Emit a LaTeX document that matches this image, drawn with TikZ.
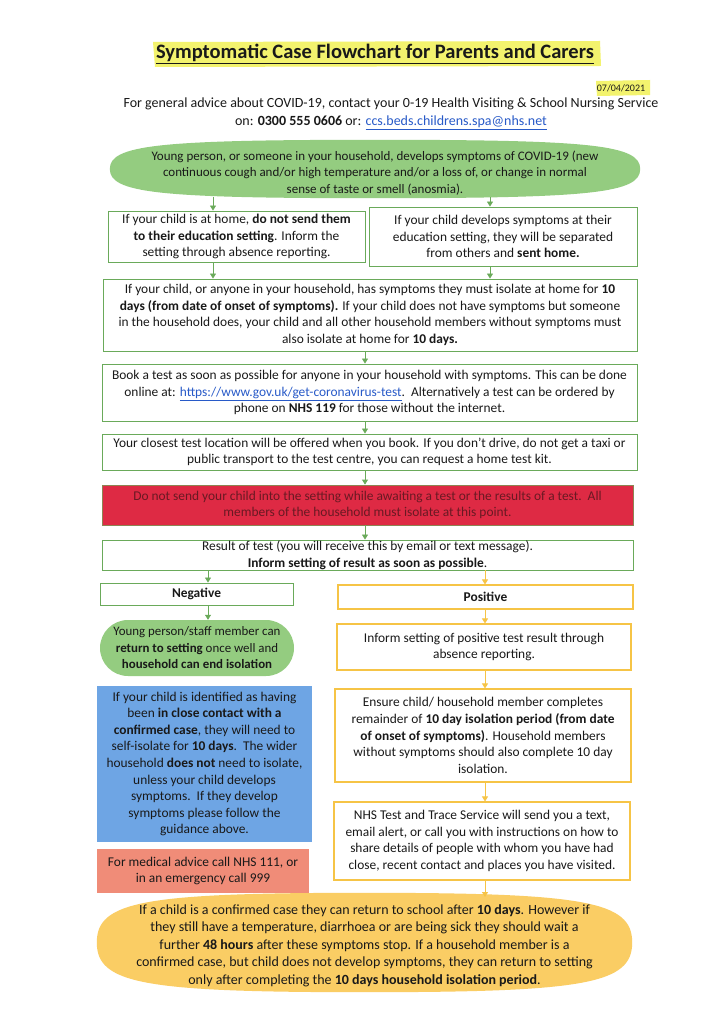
\documentclass[tikz,border=0pt]{standalone}
\usepackage{fontspec}
\setmainfont{Carlito}
\usetikzlibrary{arrows.meta,backgrounds}
\definecolor{gfill}{RGB}{148,204,128}
\definecolor{gline}{RGB}{106,170,90}
\definecolor{oline}{RGB}{246,196,70}
\definecolor{ofill}{RGB}{250,205,100}
\definecolor{rfill}{RGB}{222,42,68}
\definecolor{rtext}{RGB}{105,25,35}
\definecolor{bfill}{RGB}{110,165,228}
\definecolor{sfill}{RGB}{240,140,120}
\definecolor{hly}{RGB}{243,243,110}
\definecolor{linkblue}{RGB}{40,90,200}
\definecolor{txt}{RGB}{25,25,25}
\newcommand{\lnk}[1]{\textcolor{linkblue}{\underline{#1}}}
% squircle fill around a node: #1 node, #2 kx, #3 ky, #4 colour
\newcommand{\sqfill}[4]{\fill[#4] (#1.west) .. controls +(0,-#3) and +(-#2,0) .. (#1.north) .. controls +(#2,0) and +(0,-#3) .. (#1.east) .. controls +(0,#3) and +(#2,0) .. (#1.south) .. controls +(-#2,0) and +(0,#3) .. (#1.west) -- cycle;}
\tikzset{
  body/.style={font=\fontsize{13.4}{16.6}\selectfont, text=txt, align=center, inner sep=0pt},
  gbox/.style={body, draw=gline, line width=0.9pt},
  obox/.style={body, draw=oline, line width=1.1pt},
  garrow/.style={draw=gline, line width=0.8pt, -{Triangle[width=6pt,length=5pt]}},
  oarrow/.style={draw=oline, line width=0.9pt, -{Triangle[width=6pt,length=5pt]}},
}
\begin{document}
\begin{tikzpicture}[x=1pt,y=-1pt]
\useasboundingbox (0,0) rectangle (724,1024);
% title
\node[font=\fontsize{20.5}{24}\selectfont\bfseries, text=txt] (title) at (375,54) {\underline{Symptomatic Case Flowchart for Parents and Carers}};
\node[font=\fontsize{10}{12}\selectfont, text=txt] (date) at (621,88) {07/04/2021};
\node[body, font=\fontsize{14}{18}\selectfont] (advice) at (391,114) {For general advice about COVID-19, contact your 0-19 Health Visiting \& School Nursing Service\\on: \textbf{0300 555 0606} or: \lnk{ccs.beds.childrens.spa@nhs.net}};
% start shape
\node[inner sep=0pt, minimum width=530pt, minimum height=58pt] (start) at (375,169) {};
\node[body, font=\fontsize{13}{16.5}\selectfont] (startT) at (375,173) {Young person, or someone in your household, develops symptoms of COVID-19 (new\\continuous cough and/or high temperature and/or a loss of, or change in normal\\sense of taste or smell (anosmia).};
% level 1
\node[gbox, minimum width=257pt, minimum height=51pt] (L1) at (236.5,236.5) {If your child is at home, \textbf{do not send them}\\\textbf{to their education setting}. Inform the\\setting through absence reporting.};
\node[gbox, minimum width=268pt, minimum height=59pt] (R1) at (503,236.5) {If your child develops symptoms at their\\education setting, they will be separated\\from others and \textbf{sent home.}};
\node[gbox, minimum width=534pt, minimum height=72pt] (B3) at (370,315) {If your child, or anyone in your household, has symptoms they must isolate at home for \textbf{10}\\\textbf{days (from date of onset of symptoms).} If your child does not have symptoms but someone\\in the household does, your child and all other household members without symptoms must\\also isolate at home for \textbf{10 days.}};
\node[gbox, minimum width=535pt, minimum height=57pt] (B4) at (369.5,392.5) {Book a test as soon as possible for anyone in your household with symptoms. This can be done\\online at: \lnk{https://www.gov.uk/get-coronavirus-test}.\ \ Alternatively a test can be ordered by\\phone on \textbf{NHS 119} for those without the internet.};
\node[gbox, minimum width=535pt, minimum height=36pt] (B5) at (369.5,452) {Your closest test location will be offered when you book. If you don't drive, do not get a taxi or\\public transport to the test centre, you can request a home test kit.};
\node[body, text=rtext, fill=rfill, draw=gline!70!rfill, line width=0.8pt, minimum width=531pt, minimum height=40pt] (red) at (367.5,505) {Do not send your child into the setting while awaiting a test or the results of a test.\ \ All\\members of the household must isolate at this point.};
\node[gbox, minimum width=531pt, minimum height=30pt] (B6) at (367.5,555) {Result of test (you will receive this by email or text message).\\\textbf{Inform setting of result as soon as possible}.};
\node[gbox, minimum width=193pt, minimum height=22pt] (neg) at (196.5,594) {\textbf{Negative}};
\node[obox, minimum width=295pt, minimum height=24pt] (pos) at (485.5,597) {\textbf{Positive}};
\node[body, font=\fontsize{12.9}{16.5}\selectfont, fill=gfill, rounded corners=28pt, minimum width=194pt, minimum height=56pt] (pill) at (197,648) {Young person/staff member can\\\textbf{return to setting} once well and\\\textbf{household can end isolation}};
\node[obox, minimum width=294pt, minimum height=46pt] (inform) at (484,647) {Inform setting of positive test result through\\absence reporting.};
\node[obox, minimum width=296pt, minimum height=93pt] (ensure) at (483,735.5) {Ensure child/ household member completes\\remainder of \textbf{10 day isolation period (from date}\\\textbf{of onset of symptoms)}. Household members\\without symptoms should also complete 10 day\\isolation.};
\node[obox, minimum width=296pt, minimum height=78pt] (nhs) at (482,841) {NHS Test and Trace Service will send you a text,\\email alert, or call you with instructions on how to\\share details of people with whom you have had\\close, recent contact and places you have visited.};
\node[body, fill=bfill, minimum width=215pt, minimum height=156pt] (blue) at (204.5,764) {If your child is identified as having\\been \textbf{in close contact with a}\\\textbf{confirmed case}, they will need to\\self-isolate for \textbf{10 days}.\ \ The wider\\household \textbf{does not} need to isolate,\\unless your child develops\\symptoms.\ \ If they develop\\symptoms please follow the\\guidance above.};
\node[body, fill=sfill, minimum width=212pt, minimum height=44pt] (salmon) at (203,871) {For medical advice call NHS 111, or\\in an emergency call 999};
\node[inner sep=0pt, minimum width=535pt, minimum height=99pt] (end) at (364.5,942.5) {};
\node[body, font=\fontsize{14}{17.5}\selectfont] (endT) at (364.5,945.5) {If a child is a confirmed case they can return to school after \textbf{10 days}. However if\\they still have a temperature, diarrhoea or are being sick they should wait a\\further \textbf{48 hours} after these symptoms stop. If a household member is a\\confirmed case, but child does not develop symptoms, they can return to setting\\only after completing the \textbf{10 days household isolation period}.};
% backgrounds
\begin{scope}[on background layer]
\fill[white] (0,0) rectangle (724,1024);
\fill[hly] (153,42) -- (600,41) -- (601,66) -- (155,67) -- cycle;
\fill[hly] (596,81) -- (650,80) -- (650,95) -- (597,96) -- cycle;
\sqfill{start}{217}{24}{gfill}
\sqfill{end}{222}{41}{ofill}
\end{scope}
% connector x-positions
\coordinate (xl) at (213,0);
\coordinate (xr) at (490,0);
\coordinate (xc) at (365,0);
\coordinate (xn) at (208,0);
\coordinate (xp) at (485,0);
\coordinate (sl) at (213,197);
\coordinate (sr) at (490,197);
\coordinate (ep) at (485,897);
\draw[garrow] (sl) -- (L1.north -| xl);
\draw[garrow] (sr) -- (R1.north -| xr);
\draw[garrow] (L1.south -| xl) -- (B3.north -| xl);
\draw[garrow] (R1.south -| xr) -- (B3.north -| xr);
\draw[garrow] (B3.south -| xc) -- (B4.north -| xc);
\draw[garrow] (B4.south -| xc) -- (B5.north -| xc);
\draw[garrow] (B5.south -| xc) -- (red.north -| xc);
\draw[garrow] (red.south -| xc) -- (B6.north -| xc);
\draw[garrow] (B6.south -| xn) -- (neg.north -| xn);
\draw[garrow] (neg.south -| xn) -- (pill.north -| xn);
\draw[oarrow] (B6.south -| xp) -- (pos.north -| xp);
\draw[oarrow] (pos.south -| xp) -- (inform.north -| xp);
\draw[oarrow] (inform.south -| xp) -- (ensure.north -| xp);
\draw[oarrow] (ensure.south -| xp) -- (nhs.north -| xp);
\draw[oarrow] (nhs.south -| xp) -- (ep);
\end{tikzpicture}
\end{document}
